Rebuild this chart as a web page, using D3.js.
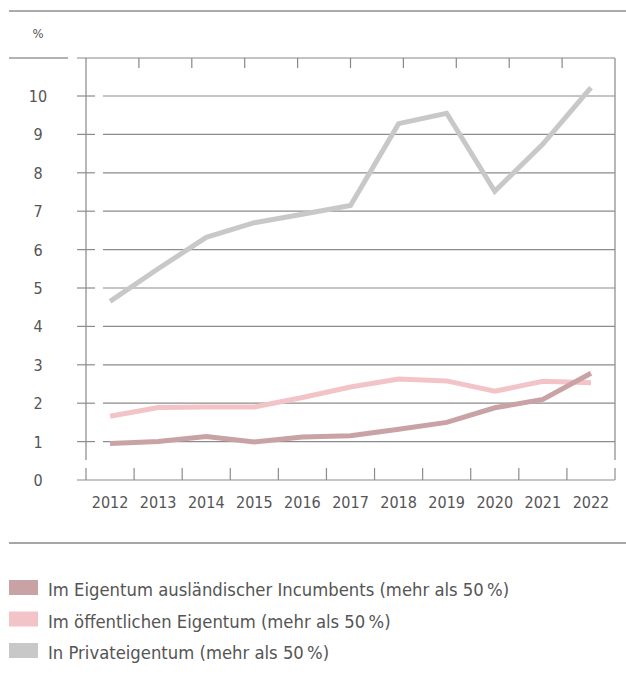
<!DOCTYPE html>
<html>
<head>
<meta charset="utf-8">
<script src="https://cdn.jsdelivr.net/npm/d3@7"></script>
<style>
  body { margin: 0; background: #fff; }
  svg text { font-family: "DejaVu Sans Condensed", sans-serif; fill: #555; }
</style>
</head>
<body>
<div id="chart"></div>
<script>
var years = [2012, 2013, 2014, 2015, 2016, 2017, 2018, 2019, 2020, 2021, 2022];
var yTicks = [0, 1, 2, 3, 4, 5, 6, 7, 8, 9, 10];

var foreignOwned = [0.95, 1.0, 1.13, 0.99, 1.12, 1.15, 1.32, 1.5, 1.88, 2.1, 2.78];
var publicOwned  = [1.66, 1.89, 1.9, 1.9, 2.15, 2.42, 2.63, 2.58, 2.31, 2.57, 2.53];
var privateOwned = [4.65, 5.5, 6.32, 6.7, 6.92, 7.15, 9.28, 9.55, 7.52, 8.75, 10.22];

var seriesNames = [
  "Im Eigentum ausländischer Incumbents (mehr als 50\u202F%)",
  "Im öffentlichen Eigentum (mehr als 50\u202F%)",
  "In Privateigentum (mehr als 50\u202F%)"
];
var seriesColors = ["#c9a2a5", "#f3c4c7", "#c8c8c8"];

var series = [
  { name: seriesNames[0], color: seriesColors[0], values: foreignOwned },
  { name: seriesNames[1], color: seriesColors[1], values: publicOwned },
  { name: seriesNames[2], color: seriesColors[2], values: privateOwned }
];

var W = 626, H = 686;
var plotLeft = 86, plotRight = 615, plotTop = 58, plotBottom = 480;

var svg = d3.select("#chart").append("svg")
  .attr("width", W)
  .attr("height", H);

var x = d3.scaleBand()
  .domain(years)
  .range([plotLeft, plotRight])
  .padding(0);

var y = d3.scaleLinear()
  .domain([0, 10])
  .range([plotBottom, 96]);

// rules at the top
svg.append("line")
  .attr("x1", 9).attr("x2", W).attr("y1", 11).attr("y2", 11)
  .style("stroke", "#aaa").style("stroke-width", 2);

svg.append("text")
  .attr("x", 38).attr("y", 38)
  .attr("text-anchor", "middle")
  .style("font-size", "13px")
  .text("%");

svg.append("line")
  .attr("x1", 9).attr("x2", 68).attr("y1", plotTop).attr("y2", plotTop)
  .style("stroke", "#999").style("stroke-width", 1.3);

// frame
var frame = svg.append("g").classed("frame", true)
  .style("stroke", "#888").style("stroke-width", 1.2).style("fill", "none");

frame.append("line")
  .attr("x1", 77).attr("x2", plotRight).attr("y1", plotTop).attr("y2", plotTop);
frame.append("line")
  .attr("x1", plotLeft).attr("x2", plotLeft).attr("y1", plotTop).attr("y2", 460);
frame.append("line")
  .attr("x1", plotRight).attr("x2", plotRight).attr("y1", plotTop).attr("y2", 460);

// top ticks (decorative, 10 intervals)
var topTick = d3.scaleLinear().domain([0, 10]).range([plotLeft, plotRight]);
frame.selectAll(".top-tick")
  .data(d3.range(1, 10))
  .enter().append("line")
    .classed("top-tick", true)
    .attr("x1", function(d) { return topTick(d); })
    .attr("x2", function(d) { return topTick(d); })
    .attr("y1", plotTop).attr("y2", plotTop + 10);

// gridlines
var grid = svg.append("g").classed("grid", true)
  .style("stroke", "#8c8c8c").style("stroke-width", 1.2);

grid.selectAll(".tick-left")
  .data(yTicks.filter(function(d) { return d > 0; }))
  .enter().append("line")
    .attr("x1", 77).attr("x2", 95)
    .attr("y1", function(d) { return y(d); })
    .attr("y2", function(d) { return y(d); });

grid.selectAll(".gridline")
  .data(yTicks.filter(function(d) { return d > 0; }))
  .enter().append("line")
    .attr("x1", 103).attr("x2", plotRight)
    .attr("y1", function(d) { return y(d); })
    .attr("y2", function(d) { return y(d); });

grid.append("line")
  .attr("x1", 77).attr("x2", plotRight)
  .attr("y1", y(0)).attr("y2", y(0));

// bottom ticks at band edges
var edges = years.map(function(d) { return x(d); }).concat([x(years[years.length - 1]) + x.bandwidth()]);
grid.selectAll(".bottom-tick")
  .data(edges)
  .enter().append("line")
    .attr("x1", function(d) { return d; })
    .attr("x2", function(d) { return d; })
    .attr("y1", y(0) - 12).attr("y2", y(0));

// y labels
svg.selectAll(".ylabel")
  .data(yTicks)
  .enter().append("text")
    .classed("ylabel", true)
    .attr("x", 38)
    .attr("y", function(d) { return y(d) + 6; })
    .attr("text-anchor", "middle")
    .style("font-size", "16px")
    .text(function(d) { return d; });

// x labels
svg.selectAll(".xlabel")
  .data(years)
  .enter().append("text")
    .classed("xlabel", true)
    .attr("x", function(d) { return x(d) + x.bandwidth() / 2; })
    .attr("y", 508)
    .attr("text-anchor", "middle")
    .style("font-size", "16px")
    .text(function(d) { return d; });

// lines
var line = d3.line()
  .x(function(d, i) { return x(years[i]) + x.bandwidth() / 2; })
  .y(function(d) { return y(d); });

svg.selectAll(".series")
  .data(series.slice().reverse())
  .enter().append("path")
    .classed("series", true)
    .attr("d", function(d) { return line(d.values); })
    .style("fill", "none")
    .style("stroke", function(d) { return d.color; })
    .style("stroke-width", 5)
    .style("stroke-linejoin", "miter");

// separator
svg.append("line")
  .attr("x1", 9).attr("x2", W).attr("y1", 543).attr("y2", 543)
  .style("stroke", "#888").style("stroke-width", 1.3);

// legend
var legend = svg.selectAll(".legend")
  .data(series)
  .enter().append("g")
    .classed("legend", true)
    .attr("transform", function(d, i) { return "translate(9," + (580 + i * 31.5) + ")"; });

legend.append("rect")
  .attr("width", 29).attr("height", 15)
  .style("fill", function(d) { return d.color; });

legend.append("text")
  .attr("x", 39).attr("y", 16)
  .style("font-size", "18.3px")
  .text(function(d) { return d.name; });
</script>
</body>
</html>
